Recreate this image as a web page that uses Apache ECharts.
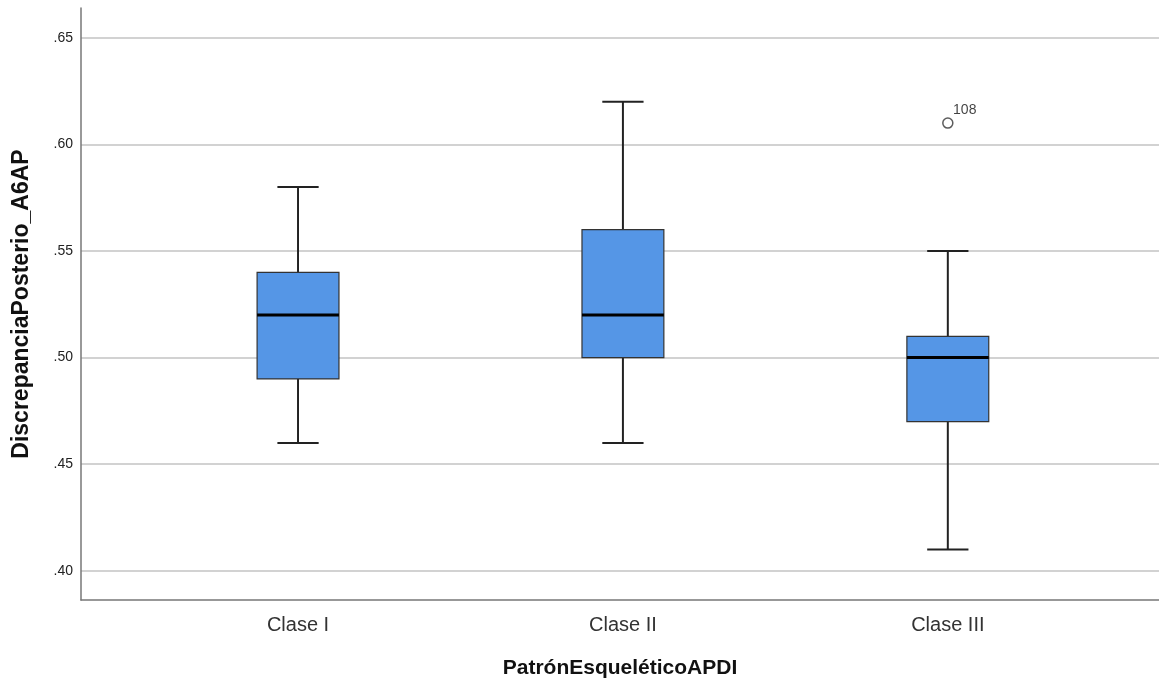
<!DOCTYPE html>
<html>
<head>
<meta charset="utf-8">
<script src="https://cdn.jsdelivr.net/npm/echarts@6/dist/echarts.min.js"></script>
<style>
  html, body { margin: 0; padding: 0; background: #fff; }
  #box { width: 1159px; height: 684px; }
</style>
</head>
<body>
<div id="box"></div>
<script>
// data
var categories = ['Clase I', 'Clase II', 'Clase III'];
var mins    = [0.46, 0.46, 0.41];
var q1s     = [0.49, 0.50, 0.47];
var medians = [0.52, 0.52, 0.50];
var q3s     = [0.54, 0.56, 0.51];
var maxs    = [0.58, 0.62, 0.55];
var outliers = [[2, 0.61, '108']];
var yTicks = [0.40, 0.45, 0.50, 0.55, 0.60, 0.65];

function boxChart() {
    var myChart = echarts.init(document.getElementById('box'));
    window.onresize = myChart.resize;

    var boxData = categories.map(function (c, i) {
        return [i, mins[i], q1s[i], medians[i], q3s[i], maxs[i]];
    });

    var option = {
        animation: false,
        grid: { left: 81, right: 0, top: 8, bottom: 80 },
        xAxis: {
            type: 'value',
            min: -0.668,
            max: 2.65,
            name: 'PatrónEsqueléticoAPDI',
            nameLocation: 'middle',
            nameGap: 58,
            nameTextStyle: { fontFamily: 'Liberation Sans', fontSize: 21, fontWeight: 'bold', color: '#111' },
            axisLine: { onZero: false, lineStyle: { color: '#777', width: 1.5 } },
            axisTick: { show: false },
            splitLine: { show: false },
            axisLabel: {
                customValues: [0, 1, 2],
                margin: 15,
                fontFamily: 'Liberation Sans',
                fontSize: 20,
                color: '#333',
                formatter: function (v) { return categories[Math.round(v)]; }
            }
        },
        yAxis: {
            type: 'value',
            min: 0.3863,
            max: 0.664,
            name: 'DiscrepanciaPosterio_A6AP',
            nameLocation: 'middle',
            nameRotate: 90,
            nameGap: 48,
            nameTextStyle: { fontFamily: 'Liberation Sans', fontSize: 23, fontWeight: 'bold', color: '#111' },
            axisLine: { show: true, onZero: false, lineStyle: { color: '#777', width: 1.5 } },
            axisTick: { show: false, customValues: yTicks },
            splitLine: { show: true, lineStyle: { color: '#d2d2d2', width: 2 } },
            axisLabel: {
                customValues: yTicks,
                margin: 8,
                fontFamily: 'Liberation Sans',
                fontSize: 14,
                color: '#222',
                formatter: function (v) { return v.toFixed(2).replace(/^0/, ''); }
            }
        },
        series: [
            {
                type: 'custom',
                data: boxData,
                renderItem: function (params, api) {
                    var x = api.value(0);
                    var pMin = api.coord([x, api.value(1)]);
                    var pQ1 = api.coord([x, api.value(2)]);
                    var pMed = api.coord([x, api.value(3)]);
                    var pQ3 = api.coord([x, api.value(4)]);
                    var pMax = api.coord([x, api.value(5)]);
                    var hb = api.size([0.252, 0])[0] / 2;
                    var hc = api.size([0.127, 0])[0] / 2;
                    var cx = pMin[0];
                    var ws = { stroke: '#222', lineWidth: 2 };
                    return {
                        type: 'group',
                        children: [
                            { type: 'line', shape: { x1: cx, y1: pMin[1], x2: cx, y2: pQ1[1] }, style: ws },
                            { type: 'line', shape: { x1: cx, y1: pQ3[1], x2: cx, y2: pMax[1] }, style: ws },
                            { type: 'line', shape: { x1: cx - hc, y1: pMin[1], x2: cx + hc, y2: pMin[1] }, style: ws },
                            { type: 'line', shape: { x1: cx - hc, y1: pMax[1], x2: cx + hc, y2: pMax[1] }, style: ws },
                            { type: 'rect', shape: { x: cx - hb, y: pQ3[1], width: hb * 2, height: pQ1[1] - pQ3[1] },
                              style: { fill: '#5596e6', stroke: '#333', lineWidth: 1.2 } },
                            { type: 'line', shape: { x1: cx - hb, y1: pMed[1], x2: cx + hb, y2: pMed[1] },
                              style: { stroke: '#000', lineWidth: 3 } }
                        ]
                    };
                }
            },
            {
                type: 'scatter',
                data: outliers,
                symbol: 'circle',
                symbolSize: 10,
                itemStyle: { color: '#fff', borderColor: '#333', borderWidth: 1.5 },
                label: {
                    show: true,
                    position: [11, -14],
                    fontFamily: 'Liberation Sans',
                    fontSize: 14,
                    color: '#111',
                    formatter: function (p) { return p.value[2]; }
                }
            }
        ]
    };
    myChart.setOption(option);
}

boxChart();
</script>
</body>
</html>
